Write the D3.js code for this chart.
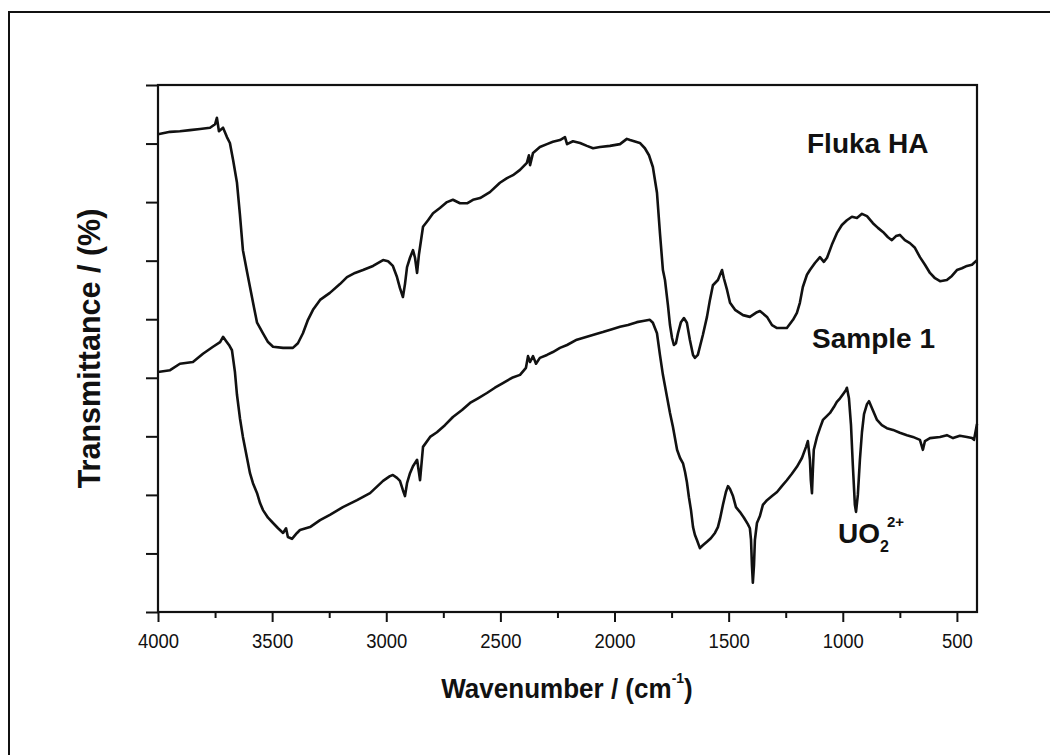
<!DOCTYPE html>
<html>
<head>
<meta charset="utf-8">
<script src="https://cdn.jsdelivr.net/npm/d3@7"></script>
<style>
  html, body { margin: 0; padding: 0; background: #fff; }
  svg { display: block; }
  text { font-family: "Liberation Sans", Arial, Helvetica, sans-serif; fill: #111; }
</style>
</head>
<body>
<svg id="chart" width="1050" height="755"></svg>
<script>
// Axis ticks (wavenumber in cm^-1; transmittance in arbitrary % steps, unlabelled)
const waveTicks = [4000, 3500, 3000, 2500, 2000, 1500, 1000, 500];
const waveMinorTicks = [3750, 3250, 2750, 2250, 1750, 1250, 750];
const transTicks = [0, 10, 20, 30, 40, 50, 60, 70, 80, 90];

// Fluka humic acid spectrum
const flukaWave = [4000,3947,3904,3860,3816,3772,3750,3742,3733,3715,3698,3685,3671,3654,3641,3628,3610,3597,3579,3566,
  3540,3518,3496,3452,3409,3387,3365,3343,3321,3290,3247,3203,3172,3137,3102,3058,3014,2992,2971,2953,
  2940,2927,2918,2909,2896,2883,2874,2865,2857,2839,2817,2795,2765,2734,2708,2677,2646,2620,2589,2546,
  2502,2471,2445,2414,2384,2375,2370,2357,2327,2296,2270,2239,2217,2208,2182,2151,2121,2094,2064,2020,
  1976,1946,1932,1889,1867,1849,1832,1814,1801,1788,1779,1766,1757,1748,1740,1731,1722,1709,1696,1683,
  1670,1656,1648,1635,1613,1595,1582,1569,1547,1529,1521,1507,1494,1472,1437,1407,1376,1363,1332,1310,
  1288,1245,1218,1201,1188,1175,1157,1144,1122,1100,1083,1069,1048,1026,1004,982,960,938,916,894,
  868,846,824,802,785,767,750,728,706,684,662,640,618,596,574,544,522,500,478,456,434,412];
const flukaTrans = [81.6,82.0,82.1,82.3,82.5,82.7,83.3,84.4,82.1,82.7,81.1,80.1,77.2,73.3,67.8,61.8,58.1,55.5,51.9,49.4,
  47.6,46.1,45.3,45.1,45.1,45.9,47.6,49.9,51.6,53.3,54.5,56.0,57.2,57.9,58.4,59.1,60.1,59.9,59.1,57.2,
  55.3,53.8,56.0,58.9,60.5,61.8,60.5,57.9,61.0,65.8,66.9,68.1,69.0,70.0,70.4,69.8,69.8,70.4,70.7,71.7,
  73.3,74.1,74.6,75.5,76.7,78.0,76.3,78.4,79.4,79.9,80.3,80.6,81.1,79.9,80.4,80.1,79.6,79.2,79.4,79.6,
  79.9,80.8,80.6,80.1,79.2,78.0,76.0,71.6,64.7,58.4,56.7,52.4,49.0,46.8,45.6,45.9,47.6,49.5,50.2,49.4,
  46.5,43.9,43.4,43.9,47.3,50.4,53.3,55.8,56.7,58.4,57.0,55.0,52.8,51.6,50.7,50.4,51.2,51.4,50.4,49.0,
  48.5,48.5,49.9,51.1,52.8,55.5,57.6,58.4,59.6,60.6,59.8,60.5,62.7,64.7,66.1,66.9,67.5,67.3,68.0,67.6,
  66.4,65.6,64.9,64.0,63.5,64.2,64.4,63.5,63.0,62.2,60.6,59.3,57.9,57.0,56.5,56.7,57.4,58.4,58.7,59.1,59.3,60.1];

// Sample 1 spectrum (humic acid loaded with uranyl)
const sampleWave = [4000,3947,3904,3847,3803,3759,3728,3715,3702,3689,3676,3663,3654,3641,3628,3610,3597,3584,3566,3553,
  3540,3518,3496,3474,3452,3439,3431,3413,3391,3378,3334,3290,3247,3190,3128,3071,3014,2984,2971,2953,
  2940,2927,2918,2909,2896,2883,2865,2857,2852,2844,2839,2808,2778,2743,2708,2668,2633,2598,2559,2524,
  2489,2449,2414,2388,2379,2370,2357,2344,2327,2296,2270,2239,2208,2165,2121,2077,2051,2011,1976,1941,
  1902,1875,1845,1832,1814,1801,1788,1770,1757,1744,1726,1713,1700,1691,1683,1674,1665,1656,1648,1639,
  1626,1613,1595,1578,1560,1547,1538,1525,1512,1503,1494,1481,1468,1451,1433,1416,1407,1402,1398,1394,
  1389,1385,1376,1363,1350,1332,1310,1288,1267,1245,1223,1201,1179,1161,1153,1144,1140,1135,1131,1127,
  1113,1100,1087,1069,1056,1039,1026,1012,999,986,982,973,964,956,947,942,934,925,916,907,
  894,885,872,850,829,807,780,750,719,693,662,649,640,618,574,544,517,487,456,434,425,412];
const sampleTrans = [41.0,41.3,42.4,42.7,44.1,45.3,46.1,47.0,46.3,45.6,44.7,41.0,37.1,33.1,29.9,26.3,23.7,22.0,20.3,18.6,
  17.4,16.1,15.2,14.3,13.5,14.3,12.8,12.5,13.5,14.0,14.5,15.7,16.6,17.9,19.1,20.3,22.4,23.2,23.4,22.9,
  22.4,20.8,19.8,22.0,23.7,24.9,26.0,23.9,22.5,26.0,28.2,29.9,30.7,31.9,33.3,34.5,35.7,36.5,37.4,38.3,
  39.1,40.0,40.5,41.7,43.7,42.7,43.7,42.4,43.4,43.9,44.4,45.1,45.6,46.5,47.0,47.5,47.8,48.3,48.7,49.0,
  49.5,49.7,49.9,49.4,47.6,43.9,40.5,36.7,34.0,31.6,27.7,26.3,25.4,23.9,22.2,19.6,17.4,14.5,13.2,12.3,
  10.9,11.4,12.0,12.6,13.5,14.5,15.9,18.3,20.5,21.5,21.0,19.8,17.9,17.1,16.1,15.0,14.3,12.3,8.0,5.0,
  8.0,12.3,15.2,16.4,18.3,19.1,19.8,20.5,21.5,22.5,23.6,24.8,26.3,28.2,29.2,26.0,22.5,20.3,24.3,27.7,
  29.9,31.4,32.8,33.5,34.0,35.0,35.9,36.5,37.2,37.9,38.3,36.5,31.9,25.1,18.3,17.1,20.0,26.0,30.7,33.8,
  35.5,36.0,34.8,32.8,31.9,31.4,31.1,30.6,30.2,29.9,29.4,27.7,29.2,29.7,29.9,30.2,29.7,30.1,29.9,29.7,29.4,32.1];

const svg = d3.select("#chart");
const W = 1050, H = 755;
const margin = { top: 85, right: 73, bottom: 143, left: 158 };

const x = d3.scaleLinear().domain([4000, 412]).range([margin.left, W - margin.right]);
const y = d3.scaleLinear().domain([0, 90]).range([H - margin.bottom, margin.top]);

// Outer page frame (open at right and bottom)
svg.append("path")
  .attr("d", `M9,${H} V12 H${W}`)
  .attr("fill", "none").attr("stroke", "#111").attr("stroke-width", 2);

// Minor x ticks
svg.append("g")
  .attr("transform", `translate(0,${y(0)})`)
  .call(d3.axisBottom(x).tickValues(waveMinorTicks).tickSize(6).tickSizeOuter(0).tickFormat(""))
  .call(g => g.select(".domain").remove())
  .call(g => g.selectAll("line").attr("stroke", "#111").attr("stroke-width", 2));

// Major x ticks with labels
svg.append("g")
  .attr("transform", `translate(0,${y(0)})`)
  .call(d3.axisBottom(x).tickValues(waveTicks).tickSize(10).tickSizeOuter(0).tickPadding(11).tickFormat(d3.format("d")))
  .call(g => g.select(".domain").remove())
  .call(g => g.selectAll("line").attr("stroke", "#111").attr("stroke-width", 2))
  .call(g => g.selectAll("text")
    .attr("font-size", 21)
    .attr("font-family", "'Liberation Sans', Arial, sans-serif")
    .attr("fill", "#111")
    .attr("transform", "scale(0.88,1)"));

// Left y ticks (no labels)
svg.append("g")
  .attr("transform", `translate(${x(4000)},0)`)
  .call(d3.axisLeft(y).tickValues(transTicks).tickSize(12).tickSizeOuter(0).tickFormat(""))
  .call(g => g.select(".domain").remove())
  .call(g => g.selectAll("line").attr("stroke", "#111").attr("stroke-width", 2));

// Plot frame
svg.append("rect")
  .attr("x", x(4000)).attr("y", y(90))
  .attr("width", x(412) - x(4000)).attr("height", y(0) - y(90))
  .attr("fill", "none").attr("stroke", "#111").attr("stroke-width", 2.2);

// Spectra
const line = d3.line().x(d => x(d[0])).y(d => y(d[1]));
const series = [
  d3.zip(flukaWave, flukaTrans),
  d3.zip(sampleWave, sampleTrans)
];
svg.append("g").selectAll("path").data(series).join("path")
  .attr("d", line)
  .attr("fill", "none")
  .attr("stroke", "#111")
  .attr("stroke-width", 2.6)
  .attr("stroke-linejoin", "round");

// Series labels
svg.append("text").attr("x", 807).attr("y", 153)
  .attr("font-size", 28).attr("font-weight", "bold").text("Fluka HA");
svg.append("text").attr("x", 812).attr("y", 348)
  .attr("font-size", 28).attr("font-weight", "bold").text("Sample 1");

const uo = svg.append("text").attr("x", 838).attr("y", 543)
  .attr("font-size", 28).attr("font-weight", "bold");
uo.append("tspan").text("UO");
uo.append("tspan").attr("font-size", 16).attr("dy", 9).text("2");
uo.append("tspan").attr("font-size", 15).attr("dx", -2).attr("dy", -25).text("2+");

// Axis titles
const xt = svg.append("text")
  .attr("x", 567).attr("y", 698)
  .attr("text-anchor", "middle")
  .attr("font-size", 28).attr("font-weight", "bold")
  .attr("transform", "translate(567,0) scale(0.93,1) translate(-567,0)");
xt.append("tspan").text("Wavenumber / (cm");
xt.append("tspan").attr("font-size", 15).attr("dy", -15).text("-1");
xt.append("tspan").attr("dy", 15).text(")");

svg.append("text")
  .attr("transform", `translate(100,${(85 + 612) / 2}) rotate(-90)`)
  .attr("text-anchor", "middle")
  .attr("font-size", 30.5).attr("font-weight", "bold")
  .text("Transmittance / (%)");
</script>
</body>
</html>
